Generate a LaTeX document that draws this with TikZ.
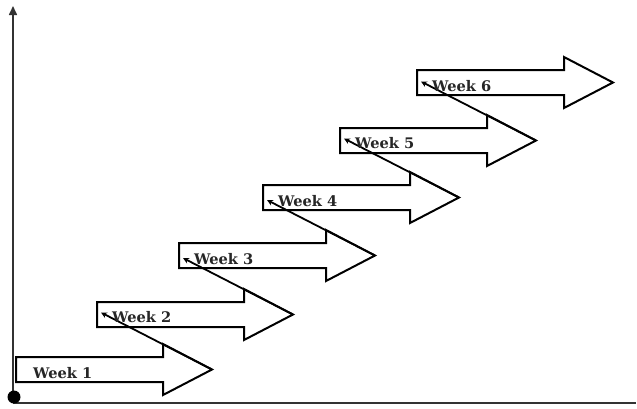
\documentclass[tikz,border=0pt]{standalone}
\usepackage{fontspec}
\setmainfont{DejaVu Serif}
\usepackage{tikz}
\usetikzlibrary{arrows.meta}

\begin{document}
\begin{tikzpicture}[x=1pt, y=-1pt,
  weekarrow/.style = {draw=black, line width=2pt, fill=white, line join=miter},
  weeklabel/.style = {anchor=base west, inner sep=0pt, text=black!85,
                      font=\fontsize{14.6}{17}\selectfont\bfseries},
  link/.style      = {line width=1.8pt, -{Stealth[length=6pt, width=6pt]}},
  axis/.style      = {line width=1.6pt, draw=black!80},
]
\useasboundingbox (0,0) rectangle (637,408);

\draw[axis] (13,403) -- (636,403);
\draw[axis, -{Triangle[length=9pt, width=8pt]}] (13,403) -- (13,6);
\fill[black] (14,397) circle (6.5pt);

\draw[weekarrow] (16,357) -- ++(147,0) -- ++(0,-13) -- ++(49,25.5) coordinate (tip1)
  -- ++(-49,25.5) -- ++(0,-13) -- ++(-147,0) -- cycle;
\node[weeklabel] (wk1) at (33,378) {Week 1};

\draw[weekarrow] (97,302) -- ++(147,0) -- ++(0,-13) -- ++(49,25.5) coordinate (tip2)
  -- ++(-49,25.5) -- ++(0,-13) -- ++(-147,0) -- cycle;
\coordinate (in2) at (101,312.5);
\draw[link] (tip1) -- (in2);
\node[weeklabel] (wk2) at (112,322) {Week 2};

\draw[weekarrow] (179,243) -- ++(147,0) -- ++(0,-13) -- ++(49,25.5) coordinate (tip3)
  -- ++(-49,25.5) -- ++(0,-13) -- ++(-147,0) -- cycle;
\coordinate (in3) at (183,258);
\draw[link] (tip2) -- (in3);
\node[weeklabel] (wk3) at (194,264) {Week 3};

\draw[weekarrow] (263,185) -- ++(147,0) -- ++(0,-13) -- ++(49,25.5) coordinate (tip4)
  -- ++(-49,25.5) -- ++(0,-13) -- ++(-147,0) -- cycle;
\coordinate (in4) at (267,200);
\draw[link] (tip3) -- (in4);
\node[weeklabel] (wk4) at (278,206) {Week 4};

\draw[weekarrow] (340,128) -- ++(147,0) -- ++(0,-13) -- ++(49,25.5) coordinate (tip5)
  -- ++(-49,25.5) -- ++(0,-13) -- ++(-147,0) -- cycle;
\coordinate (in5) at (344,138.5);
\draw[link] (tip4) -- (in5);
\node[weeklabel] (wk5) at (355,148) {Week 5};

\draw[weekarrow] (417,70) -- ++(147,0) -- ++(0,-13) -- ++(49,25.5) coordinate (tip6)
  -- ++(-49,25.5) -- ++(0,-13) -- ++(-147,0) -- cycle;
\coordinate (in6) at (421,81.5);
\draw[link] (tip5) -- (in6);
\node[weeklabel] (wk6) at (432,91) {Week 6};

\end{tikzpicture}
\end{document}
